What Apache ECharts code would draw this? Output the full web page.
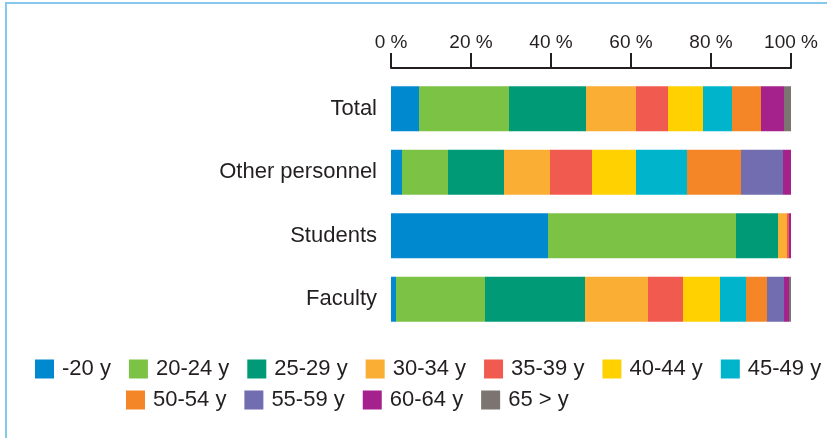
<!DOCTYPE html>
<html>
<head>
<meta charset="utf-8">
<script src="https://cdn.jsdelivr.net/npm/echarts@6/dist/echarts.min.js"></script>
<style>
  html, body { margin: 0; padding: 0; background: #fff; }
  #chart { width: 827px; height: 438px; }
</style>
</head>
<body>
<div id="chart"></div>
<script>
// groups, top to bottom
var groups = ['Total', 'Other personnel', 'Students', 'Faculty']
var ageNames = ['-20 y', '20-24 y', '25-29 y', '30-34 y', '35-39 y', '40-44 y', '45-49 y',
  '50-54 y', '55-59 y', '60-64 y', '65 > y']
var ageColors = ['#0089cf', '#7cc244', '#009a77', '#fbae34', '#f05a4f', '#ffd100', '#00b4cb',
  '#f58628', '#716db0', '#a5228c', '#7b7470']
// share of each age group in %, same order as groups
var under20 = [7.0, 2.75, 39.25, 1.25]
var age20to24 = [22.5, 11.5, 47, 22.25]
var age25to29 = [19.25, 14, 10.5, 25]
var age30to34 = [12.5, 11.5, 2.25, 15.75]
var age35to39 = [8, 10.5, 0.5, 8.75]
var age40to44 = [8.75, 11, 0, 9.25]
var age45to49 = [7.25, 12.75, 0, 6.5]
var age50to54 = [7.25, 13.5, 0, 5.25]
var age55to59 = [0, 10.5, 0, 4.25]
var age60to64 = [5.75, 2, 0.5, 1.25]
var over65 = [1.75, 0, 0, 0.5]
var percentTicks = [0, 20, 40, 60, 80, 100]

var seriesData = [under20, age20to24, age25to29, age30to34, age35to39, age40to44,
  age45to49, age50to54, age55to59, age60to64, over65]

var textColor = '#231f20'
var font = '"Liberation Sans", Arial, sans-serif'

var chart = echarts.init(document.getElementById('chart'), null, { renderer: 'canvas' })

var series = ageNames.map(function (name, i) {
  return {
    name: name,
    type: 'bar',
    stack: 'all',
    barWidth: 45,
    data: seriesData[i],
    itemStyle: { color: ageColors[i] }
  }
})

var legendBase = {
  orient: 'horizontal',
  icon: 'rect',
  padding: 0,
  itemWidth: 19,
  itemHeight: 19,
  itemGap: 18,
  selectedMode: false,
  textStyle: {
    color: textColor,
    fontSize: 22,
    fontFamily: font,
    padding: [0, 0, 0, 3]
  }
}

chart.setOption({
  animation: false,
  backgroundColor: '#fff',
  textStyle: { fontFamily: font },
  grid: {
    left: 391,
    right: 36,
    top: 77,
    bottom: 107
  },
  xAxis: {
    type: 'value',
    position: 'top',
    offset: 9,
    min: percentTicks[0],
    max: percentTicks[percentTicks.length - 1],
    interval: 20,
    splitLine: { show: false },
    axisLine: { show: true, lineStyle: { color: textColor, width: 2 } },
    axisTick: { show: true, length: 15, lineStyle: { color: textColor, width: 2 } },
    axisLabel: {
      color: textColor,
      fontSize: 19,
      margin: 16,
      formatter: '{value} %'
    }
  },
  yAxis: {
    type: 'category',
    inverse: true,
    data: groups,
    axisLine: { show: false },
    axisTick: { show: false },
    axisLabel: {
      color: textColor,
      fontSize: 22,
      margin: 14
    }
  },
  legend: [
    Object.assign({}, legendBase, { left: 35, top: 358, data: ageNames.slice(0, 7) }),
    Object.assign({}, legendBase, { left: 126, top: 389, data: ageNames.slice(7) })
  ],
  graphic: [
    // light blue frame on top and left side
    { type: 'line', shape: { x1: 6, y1: 3, x2: 827, y2: 3 }, style: { stroke: '#86c8ec', lineWidth: 2 } },
    { type: 'line', shape: { x1: 6, y1: 2, x2: 6, y2: 438 }, style: { stroke: '#86c8ec', lineWidth: 2 } }
  ],
  series: series
})
</script>
</body>
</html>
